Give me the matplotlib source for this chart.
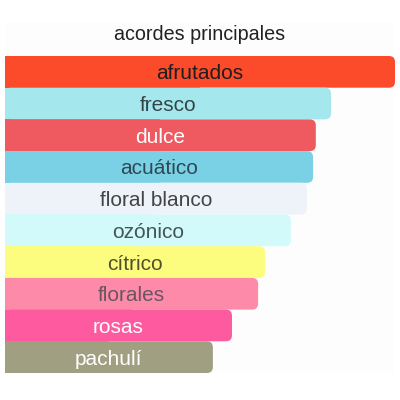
import matplotlib
matplotlib.use("Agg")
import matplotlib.pyplot as plt
from matplotlib.patches import FancyBboxPatch, Rectangle

title = "acordes principales"
categories = ["afrutados", "fresco", "dulce", "acuático", "floral blanco",
              "ozónico", "cítrico", "florales", "rosas", "pachulí"]
values = [100, 83.6, 79.7, 79.0, 77.4, 73.3, 66.7, 64.9, 58.2, 53.3]
bar_colors = ["#FC4B2A", "#A4E8EE", "#EF5A61", "#7AD1E5", "#EEF3FA",
              "#D2FAFB", "#FCFC7E", "#FD8AA9", "#FD5AA0", "#A19F82"]
text_colors = ["#1e1e1e", "#354547", "#ffffff", "#2c4a54", "#444444",
               "#455556", "#50502c", "#6a5560", "#ffffff", "#ffffff"]

W, H = 400, 400
fig = plt.figure(figsize=(4, 4), dpi=100)
fig.patch.set_facecolor("white")

# faint panel
fig.patches.append(Rectangle((5 / W, 1 - 373 / H), 389 / W, (373 - 22) / H,
                             transform=fig.transFigure, facecolor="#fdfdfd",
                             edgecolor="none", zorder=-10))

x0, x1 = 5, 395
y_top, y_bot = 56, 373
ax = fig.add_axes([x0 / W, 1 - y_bot / H, (x1 - x0) / W, (y_bot - y_top) / H])
ax.set_zorder(5)
ax.patch.set_alpha(0)
ax.set_xlim(0, 100)
ax.set_ylim(len(categories) - 0.5, -0.5)
ax.axis("off")

px_per_x = (x1 - x0) / 100.0
px_per_y = (y_bot - y_top) / len(categories)
r_px = 6.0
rx = r_px / px_per_x
aspect = (r_px / px_per_y) / rx

ys = list(range(len(categories)))
ax.barh(ys, [v / 2 for v in values], height=1.0, color=bar_colors,
        edgecolor="none", zorder=2)
for y, v, c in zip(ys, values, bar_colors):
    p = FancyBboxPatch((0, y - 0.5), v, 1.0,
                       boxstyle=f"round,pad=0,rounding_size={rx}",
                       mutation_aspect=aspect, facecolor=c, edgecolor="none",
                       zorder=2)
    ax.add_patch(p)

for y, v, name, tc in zip(ys, values, categories, text_colors):
    ax.text(v / 2, y, name, ha="center", va="center_baseline", fontsize=15,
            color=tc, family="Liberation Sans", zorder=3)

fig.text(0.5, 1 - 33 / H, title, ha="center", va="center_baseline",
         fontsize=14.2, color="#222222", family="Liberation Sans", zorder=10)

fig.savefig("out.png", dpi=100)
